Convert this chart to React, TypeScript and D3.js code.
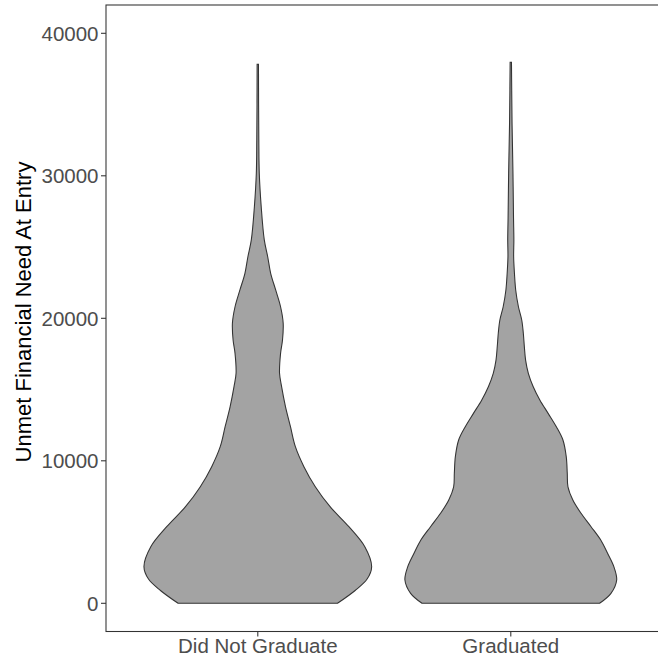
import React from "react";
import * as d3 from "d3";

const categories = ["Did Not Graduate", "Graduated"];
const yTicks = [0, 10000, 20000, 30000, 40000];

// [value, relative density]
const didNotGraduate: [number, number][] = [
  [0, 0.70], [900, 0.855], [1700, 0.96], [2570, 1.0], [3970, 0.94], [5375, 0.80],
  [6780, 0.635], [8180, 0.505], [9590, 0.405], [10990, 0.33], [12390, 0.287],
  [13800, 0.243], [15200, 0.209], [16140, 0.191], [17540, 0.20], [18480, 0.217],
  [19650, 0.223], [20810, 0.20], [21990, 0.157], [23160, 0.113], [24320, 0.087],
  [25500, 0.057], [27830, 0.030], [30175, 0.013], [32510, 0.009], [35000, 0.007],
  [37825, 0.006],
];
const graduated: [number, number][] = [
  [0, 0.78], [700, 0.88], [1635, 0.93], [2570, 0.905], [3510, 0.85], [4440, 0.79],
  [5375, 0.705], [6315, 0.617], [7250, 0.545], [8180, 0.502], [9120, 0.496],
  [10290, 0.487], [11460, 0.458], [12390, 0.40], [13330, 0.328], [14270, 0.255],
  [15200, 0.197], [16140, 0.154], [17070, 0.130], [18010, 0.119], [18950, 0.110],
  [19880, 0.096], [20810, 0.067], [21990, 0.043], [23160, 0.032], [24320, 0.025],
  [25500, 0.027], [27000, 0.024], [30175, 0.019], [33680, 0.011], [36000, 0.008],
  [37965, 0.006],
];
const series = [didNotGraduate, graduated];

export default function App() {
  const W = 658, H = 659;
  const left = 106, top = 5, bottom = 631.5, right = 662.6;
  const x = d3.scaleLinear().domain([0.4, 2.6]).range([left, right]);
  const y = d3.scaleLinear().domain([0, 40000]).range([603.3, 33.3]);
  const step = x(2) - x(1);
  const maxD = d3.max(series.flat(), (d) => d[1]) as number;
  const font = "'Liberation Sans', Arial, Helvetica, sans-serif";

  return (
    <svg width={W} height={H} style={{ position: "absolute", left: 0, top: 0 }}>
      <rect x={0} y={0} width={W} height={H} fill="#fff" />
      {series.map((s, i) => {
        const cx = x(i + 1);
        const hw = (d: number) => (0.45 * step * d) / maxD;
        const area = d3
          .area<[number, number]>()
          .y((d) => y(d[0]))
          .x0((d) => cx - hw(d[1]))
          .x1((d) => cx + hw(d[1]))
          .curve(d3.curveCatmullRom);
        return (
          <path
            key={i}
            d={area(s) as string}
            fill="#A3A3A3"
            stroke="#333333"
            strokeWidth={1.07}
          />
        );
      })}
      <rect
        x={left}
        y={top}
        width={right - left}
        height={bottom - top}
        fill="none"
        stroke="#333333"
        strokeWidth={1.07}
      />
      {yTicks.map((t) => (
        <g key={t}>
          <line x1={left - 5} x2={left} y1={y(t)} y2={y(t)} stroke="#333333" strokeWidth={1.07} />
          <text
            x={left - 7.5}
            y={y(t)}
            dy="0.36em"
            textAnchor="end"
            fontFamily={font}
            fontSize={20.5}
            fill="#4D4D4D"
          >
            {t}
          </text>
        </g>
      ))}
      {categories.map((c, i) => (
        <g key={c}>
          <line x1={x(i + 1)} x2={x(i + 1)} y1={bottom} y2={bottom + 5} stroke="#333333" strokeWidth={1.07} />
          <text
            x={x(i + 1)}
            y={653.3}
            textAnchor="middle"
            fontFamily={font}
            fontSize={20.5}
            fill="#4D4D4D"
          >
            {c}
          </text>
        </g>
      ))}
      <text
        transform={`translate(${31},${312}) rotate(-90)`}
        textAnchor="middle"
        fontFamily={font}
        fontSize={22}
        fill="#000"
      >
        Unmet Financial Need At Entry
      </text>
    </svg>
  );
}
